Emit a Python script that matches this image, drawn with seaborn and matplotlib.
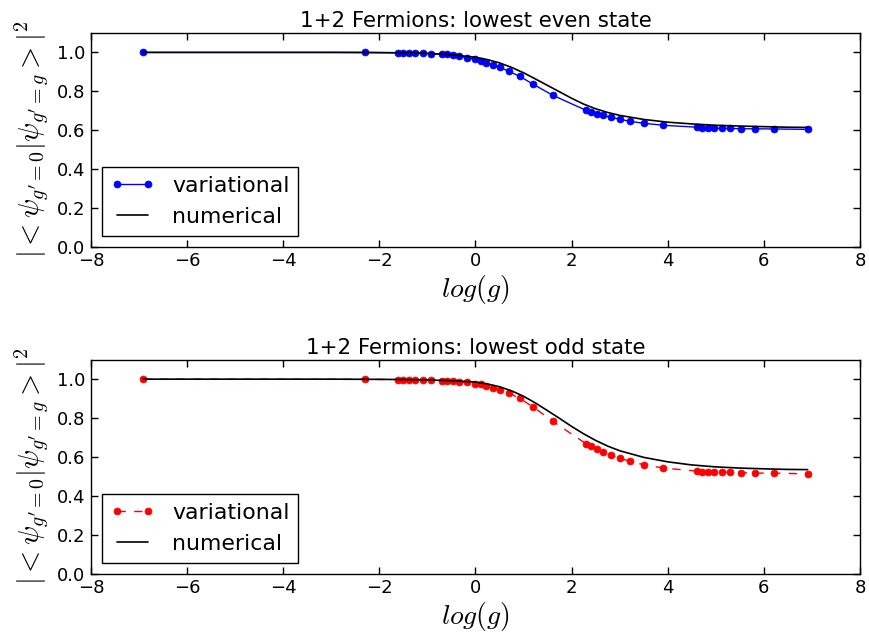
import numpy as np
import pandas as pd
import matplotlib
matplotlib.use("Agg")
import matplotlib.pyplot as plt
import seaborn as sns

# log(g) sample points of the variational calculation
log_g = [-6.91, -2.30, -1.61, -1.50, -1.39, -1.25, -1.10, -0.92, -0.69, -0.59,
         -0.47, -0.34, -0.18, 0.00, 0.11, 0.22, 0.36, 0.51, 0.69, 0.92,
         1.20, 1.61, 2.30, 2.41, 2.53, 2.66, 2.81, 3.00, 3.22, 3.51,
         3.91, 4.61, 4.71, 4.83, 4.96, 5.12, 5.30, 5.52, 5.81, 6.21, 6.91]

# overlaps for the lowest even state (variational)
even_var = [1.000, 1.000, 0.998, 0.997, 0.997, 0.997, 0.995, 0.993, 0.992, 0.990,
            0.987, 0.980, 0.973, 0.964, 0.956, 0.947, 0.937, 0.923, 0.903, 0.877,
            0.836, 0.779, 0.702, 0.693, 0.685, 0.676, 0.666, 0.656, 0.645, 0.635,
            0.625, 0.615, 0.612, 0.612, 0.611, 0.609, 0.609, 0.607, 0.607, 0.606, 0.604]

# overlaps for the lowest odd state (variational)
odd_var = [1.000, 0.999, 0.998, 0.997, 0.997, 0.996, 0.995, 0.995, 0.993, 0.991,
           0.990, 0.986, 0.983, 0.976, 0.973, 0.966, 0.957, 0.946, 0.929, 0.901,
           0.857, 0.783, 0.668, 0.654, 0.639, 0.625, 0.608, 0.594, 0.577, 0.560,
           0.543, 0.527, 0.525, 0.525, 0.524, 0.522, 0.522, 0.519, 0.517, 0.517, 0.513]

# exact diagonalisation on a finer grid
log_g_num = [-6.91, -3.0, -2.0, -1.5, -1.0, -0.5, 0.0, 0.25, 0.5, 0.75, 1.0, 1.25,
             1.5, 1.75, 2.0, 2.25, 2.5, 2.75, 3.0, 3.5, 4.0, 4.5, 5.0, 5.5, 6.0,
             6.5, 6.91]
even_num = [1.000, 1.000, 0.999, 0.998, 0.995, 0.988, 0.975, 0.963, 0.946, 0.923,
            0.895, 0.863, 0.830, 0.797, 0.764, 0.734, 0.710, 0.691, 0.676, 0.655,
            0.641, 0.632, 0.625, 0.621, 0.618, 0.615, 0.614]
odd_num = [1.000, 1.000, 0.999, 0.998, 0.996, 0.992, 0.985, 0.975, 0.961, 0.940,
           0.912, 0.877, 0.838, 0.798, 0.757, 0.719, 0.685, 0.656, 0.632, 0.598,
           0.575, 0.559, 0.549, 0.543, 0.539, 0.536, 0.535]

titles = ["1+2 Fermions: lowest even state", "1+2 Fermions: lowest odd state"]
x_ticks = [-8, -6, -4, -2, 0, 2, 4, 6, 8]
y_ticks = [0.0, 0.2, 0.4, 0.6, 0.8, 1.0]

sns.set_theme(style="white")
plt.rcParams.update({
    "font.family": ["DejaVu Sans"],
    "mathtext.fontset": "cm",
    "text.color": "black",
    "axes.labelcolor": "black",
    "axes.titlecolor": "black",
    "xtick.direction": "in",
    "ytick.direction": "in",
    "xtick.top": True,
    "ytick.right": True,
    "xtick.bottom": True,
    "ytick.left": True,
    "xtick.major.size": 5,
    "ytick.major.size": 5,
    "xtick.major.width": 1.0,
    "ytick.major.width": 1.0,
    "xtick.color": "black",
    "ytick.color": "black",
    "xtick.labelcolor": "black",
    "ytick.labelcolor": "black",
    "axes.edgecolor": "black",
    "axes.linewidth": 1.0,
    "xtick.labelsize": 13,
    "ytick.labelsize": 13,
    "legend.labelcolor": "black",
})

fig = plt.figure(figsize=(8.7, 6.38), dpi=100)
ax_top = fig.add_axes([0.1046, 0.6133, 0.8839, 0.335])
ax_bot = fig.add_axes([0.1046, 0.1008, 0.8839, 0.3354])

panels = [
    (ax_top, even_var, even_num, "blue", "-"),
    (ax_bot, odd_var, odd_num, "red", "--"),
]

ylabel = r"$|<\psi_{g'=0}|\psi_{g'=g}>|^2$"

for ax, var, num, col, ls in panels:
    df_var = pd.DataFrame({"log_g": log_g, "overlap": var})
    df_num = pd.DataFrame({"log_g": log_g_num, "overlap": num})
    sns.lineplot(data=df_var, x="log_g", y="overlap", ax=ax, color=col,
                 linestyle=ls, linewidth=1.0, marker="o", markersize=5,
                 markeredgecolor=col, markeredgewidth=0.5, label="variational",
                 sort=False, estimator=None)
    if ls == "--":
        ax.lines[-1].set_dashes((6, 6))
    sns.lineplot(data=df_num, x="log_g", y="overlap", ax=ax, color="black",
                 linewidth=1.2, label="numerical", sort=False, estimator=None)
    ax.set_xlim(-8, 8)
    ax.set_ylim(0.0, 1.1)
    ax.set_xticks(x_ticks)
    ax.set_yticks(y_ticks)
    ax.set_xticklabels([f"{t}".replace("-", "\u2212") for t in x_ticks])
    ax.set_yticklabels([f"{t:.1f}" for t in y_ticks])
    ax.tick_params(pad=4, colors="black")
    ax.set_xlabel(r"$log(g)$", fontsize=20, labelpad=2, color="black")
    ax.set_ylabel(ylabel, fontsize=20.5, labelpad=4, color="black")
    for s in ax.spines.values():
        s.set_visible(True)
        s.set_color("black")
        s.set_linewidth(1.0)
    leg = ax.legend(loc="lower left", fontsize=15.8, numpoints=2, frameon=True,
                    fancybox=False, handlelength=2.0, handletextpad=0.8,
                    borderaxespad=0.5, borderpad=0.4, labelspacing=0.5)
    leg.get_frame().set_edgecolor("black")
    leg.get_frame().set_linewidth(1.0)
    leg.get_frame().set_alpha(1.0)
    for t in leg.get_texts():
        t.set_color("black")

ax_top.set_title(titles[0], fontsize=15.4, pad=4, color="black")
ax_bot.set_title(titles[1], fontsize=15.4, pad=4, color="black")

fig.savefig("out.png", dpi=100, facecolor="white")
